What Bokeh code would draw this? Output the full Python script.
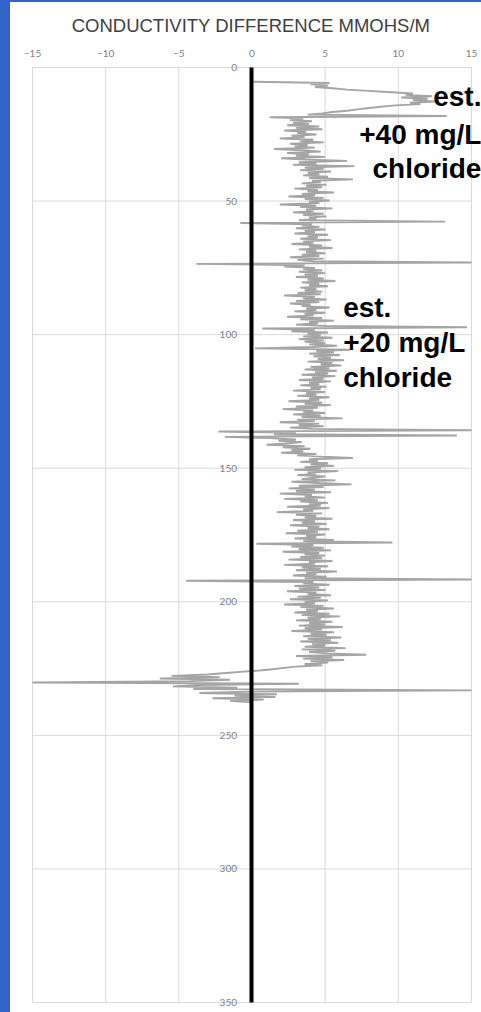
import numpy as np
from bokeh.plotting import figure
from bokeh.models import Range1d, Label, FixedTicker, GlobalInlineStyleSheet
from bokeh.embed import file_html
from bokeh.resources import INLINE

# ---------------- data ----------------
title_text = "CONDUCTIVITY DIFFERENCE MMOHS/M"
x_ticks = [-15, -10, -5, 0, 5, 10, 15]
y_ticks = [0, 50, 100, 150, 200, 250, 300, 350]

depth_top = 5.3       # first logged depth
depth_bottom = 237.6  # last logged depth

cond_diff = [
    0.0, 5.3, 4.0, 5.2, 4.3, 5.5, 6.5, 8.0, 9.5, 11.0,
    10.5, 12.3, 10.2, 12.0, 11.0, 12.5, 10.8, 11.5, 9.8, 8.8,
    8.0, 7.2, 6.5, 5.5, 4.8, 3.8, 13.3, 1.2, 3.5, 2.6,
    4.1, 2.8, 3.9, 2.4, 4.6, 3.0, 4.8, 2.2, 3.7, 3.1,
    4.4, 2.7, 3.6, 1.9, 4.2, 3.3, 4.9, 2.6, 3.8, 2.9,
    4.3, 1.5, 3.5, 4.7, 2.4, 3.9, 3.0, 5.0, 2.0, 3.6,
    6.5, 3.2, 4.4, 2.8, 7.0, 3.6, 4.9, 3.3, 5.4, 3.8,
    4.6, 3.5, 5.2, 3.9, 6.9, 4.1, 4.7, 3.4, 5.1, 3.7,
    4.8, 2.9, 4.5, 3.8, 5.6, 3.4, 4.3, 2.5, 4.9, 3.6,
    5.3, 3.9, 4.6, 1.9, 4.4, 3.3, 5.5, 3.7, 4.2, 2.8,
    4.9, 3.5, 5.1, 3.9, 4.4, 3.2, 13.2, -0.8, 4.1, 3.4,
    4.6, 3.0, 5.0, 3.6, 4.3, 2.9, 5.2, 3.8, 4.5, 3.3,
    5.4, 3.5, 4.2, 2.7, 4.8, 3.9, 5.5, 3.2, 4.4, 3.7,
    5.0, 3.4, 4.6, 2.6, 4.9, 3.1, 4.2, 15.0, -3.8, 3.6,
    2.2, 4.3, 3.5, 4.8, 3.2, 5.0, 3.6, 4.5, 3.0, 4.9,
    3.8, 5.7, 3.4, 4.6, 3.9, 5.2, 3.3, 4.4, 3.6, 4.8,
    3.1, 4.7, 2.2, 4.3, 3.5, 5.1, 3.0, 4.6, 2.6, 4.0,
    3.4, 5.3, 3.7, 4.4, 2.9, 5.0, 3.6, 4.2, 2.4, 4.8,
    3.3, 5.6, 3.9, 4.5, 3.0, 5.1, 14.7, 0.7, 4.3, 2.7,
    5.2, 3.8, 4.7, 3.5, 5.5, 3.2, 4.9, 3.6, 5.0, 3.9,
    5.8, 4.1, 0.2, 6.7, 4.4, 5.6, 3.9, 6.0, 4.2, 5.4,
    4.5, 6.3, 3.8, 5.5, 4.7, 6.1, 4.0, 5.3, 3.6, 5.8,
    4.3, 5.2, 3.4, 5.7, 4.1, 4.9, 3.2, 5.4, 3.9, 4.6,
    3.3, 5.1, 4.0, 4.7, 2.8, 5.0, 3.7, 4.4, 3.1, 5.3,
    3.9, 4.6, 2.5, 4.8, 3.6, 5.4, 3.0, 4.5, 2.1, 4.2,
    3.5, 5.0, 2.8, 4.7, 3.4, 6.2, 3.1, 4.3, 1.9, 4.6,
    3.2, 4.9, 2.6, 4.1, 15.0, -2.3, 3.0, 1.5, 14.0, -1.85,
    1.2, 3.0, 1.8, 3.4, 2.3, 1.0, 3.6, 2.1, 4.0, 2.7,
    3.5, 2.0, 4.4, 3.1, 4.8, 6.9, 3.9, 4.5, 3.3, 5.2,
    4.0, 5.6, 3.6, 4.7, 2.9, 5.9, 3.8, 4.4, 3.1, 5.0,
    4.2, 3.4, 5.7, 2.7, 4.6, 6.8, 3.2, 4.9, 2.5, 4.3,
    3.0, 5.4, 1.9, 4.1, 3.6, 5.0, 2.2, 4.5, 3.3, 5.2,
    3.9, 4.7, 2.4, 5.3, 3.5, 4.2, 1.7, 4.8, 3.0, 4.4,
    3.6, 5.5, 2.8, 4.3, 3.4, 5.1, 2.6, 4.6, 3.8, 5.3,
    3.1, 4.5, 2.3, 5.0, 3.7, 4.4, 2.9, 5.6, 3.5, 9.6,
    0.3, 4.2, 2.7, 4.9, 3.2, 5.4, 2.1, 4.6, 3.6, 5.0,
    3.3, 4.8, 2.5, 5.5, 3.9, 4.3, 2.2, 5.2, 3.4, 4.7,
    3.0, 5.8, 3.7, 4.4, 2.8, 5.1, 3.6, 15.0, -4.5, 4.2,
    3.5, 5.3, 2.9, 4.6, 3.2, 5.0, 2.4, 4.4, 3.8, 5.4,
    3.1, 4.7, 2.6, 5.2, 3.6, 4.3, 2.2, 4.9, 3.3, 5.6,
    3.7, 4.5, 2.9, 5.3, 3.4, 6.0, 3.8, 4.7, 3.0, 5.5,
    3.9, 5.0, 3.2, 6.2, 3.6, 4.8, 2.7, 5.6, 4.0, 5.1,
    3.5, 6.1, 3.8, 5.4, 3.3, 5.9, 4.1, 5.0, 3.6, 6.4,
    3.4, 5.7, 3.9, 5.2, 7.8, 3.0, 5.5, 3.5, 6.3, 4.0,
    5.2, 3.6, 4.8, 3.0, 2.2, 1.4, 0.5, -0.8, -2.0, -3.0,
    -5.5, -2.2, -6.3, -1.5, -4.2, -15.0, 3.2, -3.5, -5.4, -1.0,
    -4.0, 15.0, 0.0, -3.6, 1.7, -1.2, 1.6, -2.7, 0.8, -1.5, 0.0,
]
depth = np.linspace(depth_top, depth_bottom, len(cond_diff))

note_upper = ["est.", "+40 mg/L", "chloride"]
note_upper_x = 15.68
note_upper_y = [11.0, 25.2, 37.8]
note_lower = ["est.", "+20 mg/L", "chloride"]
note_lower_x = 6.23
note_lower_y = [89.7, 102.8, 115.9]

# ---------------- figure ----------------
p = figure(width=481, height=1012, output_backend="svg", toolbar_location=None,
           x_range=Range1d(-15.82, 15.685), y_range=Range1d(353.74, -1.87),
           x_axis_location="above",
           min_border_left=20, min_border_right=0, min_border_top=62, min_border_bottom=0)

p.stylesheets = [GlobalInlineStyleSheet(css=(
    "html{background:linear-gradient(to bottom,#3162C8 0px,#3162C8 2px,rgba(255,255,255,0) 2px),"
    "linear-gradient(to right,#3162C8 0px,#3162C8 10px,#ffffff 10px);}"
    "body{margin:0;padding:0;overflow:hidden;background:transparent;}"))]

p.border_fill_color = None
p.background_fill_color = None
p.outline_line_color = None
p.xgrid.visible = False
p.ygrid.visible = False

p.title.text = title_text
p.title.align = "center"
p.title.text_font = "Liberation Sans"
p.title.text_font_size = "18.5px"
p.title.text_font_style = "normal"
p.title.text_color = "#404040"
p.title.standoff = 22

# grid / plot-area border drawn along the tick values
grid_color = "#d9d9d9"
p.segment(x0=x_ticks, y0=[y_ticks[0]] * len(x_ticks), x1=x_ticks, y1=[y_ticks[-1]] * len(x_ticks),
          line_color=grid_color, line_width=1)
p.segment(x0=[x_ticks[0]] * len(y_ticks), y0=y_ticks, x1=[x_ticks[-1]] * len(y_ticks), y1=y_ticks,
          line_color=grid_color, line_width=1)

p.xaxis.ticker = FixedTicker(ticks=x_ticks)
p.yaxis.ticker = FixedTicker(ticks=y_ticks)

p.xaxis.axis_line_color = None
p.xaxis.major_tick_line_color = None
p.xaxis.minor_tick_line_color = None
p.xaxis.major_label_standoff = 0
p.xaxis.major_label_text_font = "Lato"
p.xaxis.major_label_text_font_size = "10px"
p.xaxis.major_label_text_color = "#7f7f7f"

p.yaxis.fixed_location = 0
p.yaxis.bounds = (y_ticks[0], y_ticks[-1])
p.yaxis.axis_line_color = "black"
p.yaxis.axis_line_width = 4
p.yaxis.major_tick_line_color = None
p.yaxis.minor_tick_line_color = None
p.yaxis.major_label_standoff = 9
p.yaxis.major_label_text_font = "Lato"
p.yaxis.major_label_text_font_size = "10px"
p.yaxis.major_label_text_color = "#7f7f7f"

p.line(x=cond_diff, y=depth, line_color="#a5a5a5", line_width=1.9)

for txt, yy in zip(note_upper, note_upper_y):
    p.add_layout(Label(x=note_upper_x, y=yy, text=txt, text_align="right",
                       text_baseline="alphabetic", text_font="Liberation Sans",
                       text_font_size="28px", text_font_style="bold", text_color="black"))
for txt, yy in zip(note_lower, note_lower_y):
    p.add_layout(Label(x=note_lower_x, y=yy, text=txt, text_align="left",
                       text_baseline="alphabetic", text_font="Liberation Sans",
                       text_font_size="28px", text_font_style="bold", text_color="black"))

open("out.html", "w").write(file_html(p, INLINE))
